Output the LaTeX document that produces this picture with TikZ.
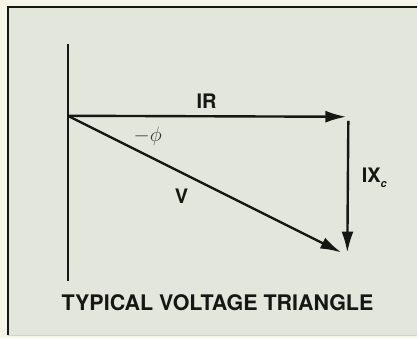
\documentclass[tikz,border=0pt]{standalone}
\usepackage{fontspec}
\setmainfont{TeX Gyre Heros}
\usetikzlibrary{arrows.meta}
\definecolor{paper}{RGB}{247,245,232}
\definecolor{panel}{RGB}{227,230,219}
\definecolor{ink}{RGB}{22,22,20}
\tikzset{
  vec/.style={ink, line width=2.4pt, -{Latex[length=21pt,width=12pt]}},
  lbl/.style={ink, inner sep=0pt, font=\fontsize{20}{22}\selectfont\bfseries},
}
\begin{document}
\begin{tikzpicture}[x=1pt,y=-1pt]
			\fill[paper] (0,0) rectangle (418,339);
			\fill[panel] (8,7) rectangle (418,336);
			\draw[ink, line width=1.6pt] (8,336) -- (8,7) -- (418,7);
			\draw[ink!20, line width=0.6pt] (8,336) -- (418,336);
			\useasboundingbox (0,0) rectangle (418,339);
			% axis and phasors
			\draw (68,44) coordinate (Top);
			\draw (68,282) coordinate (Bot);
			\draw (68,116) coordinate (O);
			\draw (347,117) coordinate (A);
			\draw (349,121) coordinate (B);
			\draw (348,253) coordinate (C);
			\draw (342,253) coordinate (D);
			\draw[ink, line width=2.4pt] (Top) -- (Bot);
			\draw[vec] (O) to (A);
			\draw[vec] (B) to (C);
			\draw[vec] (O) to (D);
			% labels
			\draw (207,101) node[lbl] (IR) {IR};
			\draw (182,197) node[lbl] (V) {V};
			\draw (375,178) node[lbl] (IX) {IX\raisebox{-0.5ex}{\fontsize{11}{12}\selectfont\itshape c}};
			\draw (148,137) node[lbl, ink!85, font=\fontsize{22}{24}\selectfont] (phi) {$-\phi$};
			\draw (218,303) node[lbl, font=\fontsize{21.5}{24}\selectfont\bfseries] (title) {TYPICAL VOLTAGE TRIANGLE};
		\end{tikzpicture}
\end{document}
